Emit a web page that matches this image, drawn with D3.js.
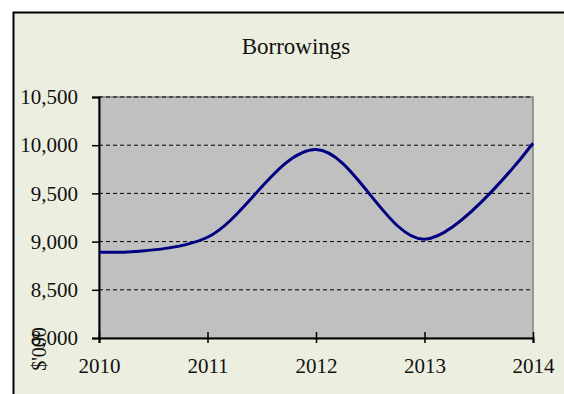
<!DOCTYPE html>
<html><head><meta charset="utf-8">
<script src="https://cdn.jsdelivr.net/npm/d3@7"></script>
<style>html,body{margin:0;padding:0;background:#fff;}
svg text{font-family:"Liberation Serif","Times New Roman",Times,serif;}</style>
</head><body>
<script>
const years = [2010, 2011, 2012, 2013, 2014];
const borrowings = [8890, 9045, 9955, 9025, 10020];
const yTicks = [8000, 8500, 9000, 9500, 10000, 10500];
const title = "Borrowings";
const yLabel = "$'000";

const W = 564, H = 394;
const svg = d3.select("body").append("svg").attr("width", W).attr("height", H);

// chart frame
svg.append("rect").attr("x", 13.5).attr("y", 12.5).attr("width", W).attr("height", H)
  .attr("fill", "#ECEEDF").attr("stroke", "#000").attr("stroke-width", 2);

const L = 99, R = 533, T = 97, B = 338;
const x = d3.scaleLinear().domain([2010, 2014]).range([L, R]);
const y = d3.scaleLinear().domain([8000, 10500]).range([B, T]);

svg.append("rect").attr("x", L).attr("y", T).attr("width", R - L).attr("height", B - T)
  .attr("fill", "#C0C0C0").attr("stroke", "#808080").attr("stroke-width", 1.5);

// gridlines
svg.append("g").selectAll("line").data(yTicks.filter(d => d > 8000)).join("line")
  .attr("x1", L).attr("x2", R).attr("y1", d => y(d)).attr("y2", d => y(d))
  .attr("stroke", "#000").attr("stroke-width", 1).attr("stroke-dasharray", "4,3");

// y axis
const yAxis = svg.append("g").attr("transform", `translate(${L},0)`)
  .call(d3.axisLeft(y).tickValues(yTicks).tickSize(7).tickPadding(14).tickFormat(d3.format(",")));
yAxis.attr("font-family", null);
yAxis.select(".domain").attr("stroke", "#000").attr("stroke-width", 2);
yAxis.selectAll(".tick line").attr("stroke", "#000").attr("stroke-width", 1.5);
yAxis.selectAll("text").attr("font-size", 21).attr("fill", "#111");

// x axis
const xAxis = svg.append("g").attr("transform", `translate(0,${B})`)
  .call(d3.axisBottom(x).tickValues(years).tickSize(5).tickPadding(15).tickFormat(d3.format("d")));
xAxis.attr("font-family", null);
xAxis.select(".domain").attr("stroke", "#000").attr("stroke-width", 2);
xAxis.selectAll(".tick line").attr("y1", -6).attr("stroke", "#000").attr("stroke-width", 1.5);
xAxis.selectAll("text").attr("font-size", 21).attr("fill", "#111");

// line
const line = d3.line().x((d, i) => x(years[i])).y(d => y(d)).curve(d3.curveCatmullRom.alpha(0));
svg.append("path").datum(borrowings).attr("d", line)
  .attr("fill", "none").attr("stroke", "#000080").attr("stroke-width", 3);

// title
svg.append("text").attr("x", 296).attr("y", 54).attr("text-anchor", "middle")
  .attr("font-size", 23).attr("fill", "#111").text(title);

// y label
svg.append("text").attr("transform", "translate(46,349) rotate(-90)").attr("text-anchor", "middle")
  .attr("font-size", 20).attr("fill", "#111").text(yLabel);
</script>
</body></html>
